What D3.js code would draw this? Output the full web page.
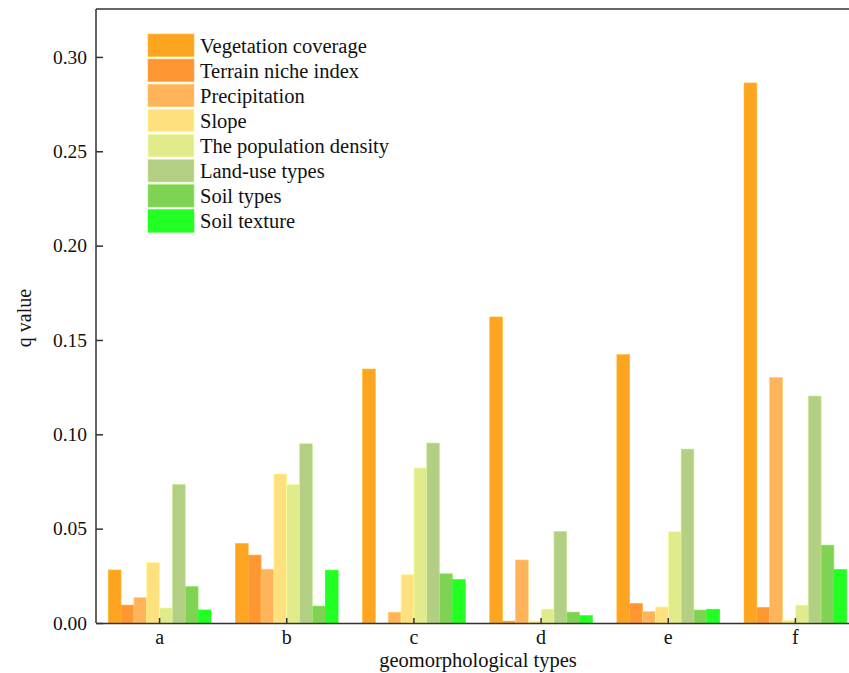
<!DOCTYPE html>
<html>
<head>
<meta charset="utf-8">
<script src="https://cdn.jsdelivr.net/npm/d3@7"></script>
<style>
  html, body { margin: 0; padding: 0; background: #fff; }
  svg { display: block; }
  text { font-family: "Liberation Serif", "Times New Roman", serif; fill: #111; }
</style>
</head>
<body>
<svg id="chart" width="849" height="673"></svg>
<script>
const categories = ["a", "b", "c", "d", "e", "f"];
const seriesNames = ["Vegetation coverage", "Terrain niche index", "Precipitation", "Slope",
  "The population density", "Land-use types", "Soil types", "Soil texture"];
const seriesColors = ["#FDA521", "#FE9632", "#FFB35A", "#FFE07E", "#E1EB8C", "#B3CF84", "#80D254", "#22FF22"];
const vegetationCoverage = [0.0281, 0.0422, 0.1346, 0.1622, 0.1422, 0.2862];
const terrainNicheIndex  = [0.0095, 0.0360, 0.0000, 0.0010, 0.0104, 0.0083];
const precipitation      = [0.0134, 0.0285, 0.0057, 0.0334, 0.0060, 0.1302];
const slope              = [0.0320, 0.0790, 0.0256, 0.0010, 0.0085, 0.0014];
const populationDensity  = [0.0080, 0.0735, 0.0822, 0.0074, 0.0484, 0.0095];
const landUseTypes       = [0.0735, 0.0950, 0.0954, 0.0486, 0.0922, 0.1203];
const soilTypes          = [0.0194, 0.0090, 0.0261, 0.0058, 0.0069, 0.0413];
const soilTexture        = [0.0069, 0.0280, 0.0230, 0.0039, 0.0073, 0.0283];
const yTicks = [0.00, 0.05, 0.10, 0.15, 0.20, 0.25, 0.30];

const seriesValues = [vegetationCoverage, terrainNicheIndex, precipitation, slope,
  populationDensity, landUseTypes, soilTypes, soilTexture];

const svg = d3.select("#chart");
const mLeft = 96, mRight = 859, mTop = 9, mBottom = 623;

const x0 = d3.scaleBand().domain(categories).range([mLeft, mRight]).padding(0);
const x1 = d3.scaleBand().domain(seriesNames).range([0, x0.bandwidth()]).paddingInner(0).paddingOuter(0.95);
const y = d3.scaleLinear().domain([0, 0.3254]).range([mBottom, mTop]);
const color = d3.scaleOrdinal().domain(seriesNames).range(seriesColors);

// bars
const groups = svg.append("g").selectAll("g")
  .data(categories).join("g")
  .attr("transform", d => `translate(${x0(d)},0)`);

groups.selectAll("rect")
  .data((c, ci) => seriesNames.map((s, si) => ({ s, v: seriesValues[si][ci] })))
  .join("rect")
  .attr("x", d => x1(d.s))
  .attr("y", d => y(d.v))
  .attr("width", x1.bandwidth())
  .attr("height", d => y(0) - y(d.v))
  .attr("fill", d => color(d.s))
  .attr("stroke", d => d3.color(color(d.s)).brighter(0.4))
  .attr("stroke-width", 0.6);

// frame top line
svg.append("line").attr("x1", mLeft).attr("x2", mRight).attr("y1", mTop).attr("y2", mTop)
  .attr("stroke", "#333").attr("stroke-width", 1.5);

// y axis
const yAxis = svg.append("g").attr("transform", `translate(${mLeft},0)`)
  .call(d3.axisLeft(y).tickValues(yTicks).tickFormat(d3.format(".2f"))
    .tickSizeInner(-7).tickSizeOuter(0).tickPadding(9));
yAxis.select(".domain").attr("stroke", "#333").attr("stroke-width", 1.5)
  .attr("d", `M0,${mTop}V${mBottom}`);
yAxis.selectAll(".tick line").attr("stroke", "#333").attr("stroke-width", 1.5);
yAxis.selectAll("text").attr("font-size", 19.5).attr("fill", "#111")
  .attr("font-family", "Liberation Serif");

// x axis
const xAxis = svg.append("g").attr("transform", `translate(0,${mBottom})`)
  .call(d3.axisBottom(x0).tickSizeInner(-5).tickSizeOuter(0).tickPadding(7));
xAxis.select(".domain").attr("stroke", "#333").attr("stroke-width", 1.5);
xAxis.selectAll(".tick line").attr("stroke", "#333").attr("stroke-width", 1.5);
xAxis.selectAll("text").attr("font-size", 20).attr("fill", "#111")
  .attr("font-family", "Liberation Serif");

// axis titles
svg.append("text").attr("x", 478).attr("y", 667).attr("text-anchor", "middle")
  .attr("font-size", 20.5).text("geomorphological types");
svg.append("text").attr("transform", "translate(31,318) rotate(-90)")
  .attr("text-anchor", "middle").attr("font-size", 20).text("q value");

// legend
const legend = svg.append("g").attr("transform", "translate(148,34)");
const rows = legend.selectAll("g").data(seriesNames).join("g")
  .attr("transform", (d, i) => `translate(0,${i * 25.1})`);
rows.append("rect").attr("width", 46).attr("height", 22.5)
  .attr("fill", d => color(d))
  .attr("stroke", d => d3.color(color(d)).brighter(0.4)).attr("stroke-width", 0.6);
rows.append("text").attr("x", 52).attr("y", 11.5).attr("dy", "0.35em")
  .attr("font-size", 20.5).text(d => d);
</script>
</body>
</html>
